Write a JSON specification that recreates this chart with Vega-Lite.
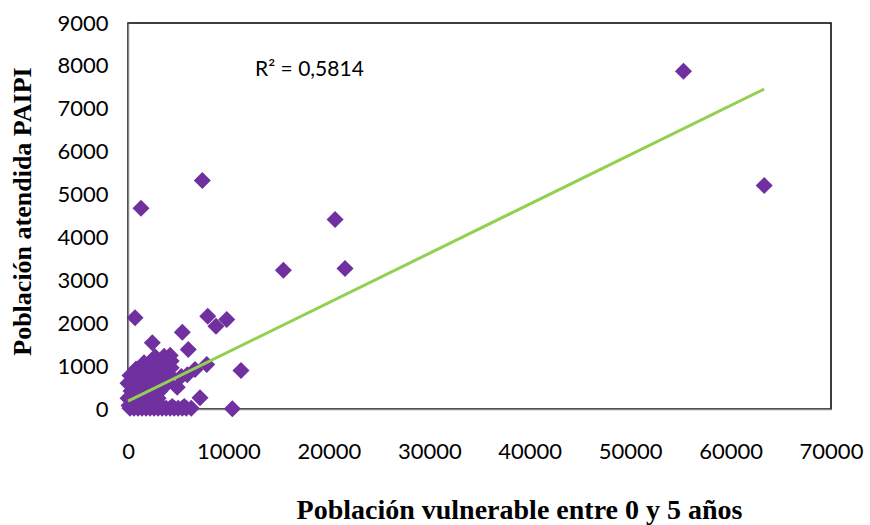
{
  "$schema": "https://vega.github.io/schema/vega-lite/v6.json",
  "width": 703,
  "height": 386,
  "autosize": "none",
  "padding": {"left": 128, "top": 23, "right": 39, "bottom": 116},
  "background": "white",
  "config": {
    "view": {"stroke": "#000000", "strokeWidth": 1.5},
    "axis": {"grid": false, "ticks": false, "domainColor": "#868686", "domainWidth": 1.5,
      "labelFont": "Lato", "labelFontSize": 22, "labelColor": "#000000",
      "titleFont": "Liberation Serif", "titleFontWeight": "bold", "titleFontSize": 26, "titleColor": "#000000"}
  },
  "datasets": {
    "pts": [
      {"x": 55310, "y": 7874}, {"x": 63350, "y": 5210}, {"x": 7400, "y": 5326}, {"x": 1295, "y": 4680},
      {"x": 20620, "y": 4417}, {"x": 15470, "y": 3235}, {"x": 21610, "y": 3275}, {"x": 700, "y": 2126},
      {"x": 7940, "y": 2163}, {"x": 8760, "y": 1930}, {"x": 9830, "y": 2086}, {"x": 5410, "y": 1790},
      {"x": 2420, "y": 1543}, {"x": 6000, "y": 1387}, {"x": 11250, "y": 897}, {"x": 7170, "y": 261},
      {"x": 10390, "y": 5}, {"x": 7840, "y": 1037}, {"x": 6670, "y": 920},
      {"x": 200, "y": 20}, {"x": 600, "y": 20}, {"x": 1000, "y": 20}, {"x": 1400, "y": 20}, {"x": 1800, "y": 20},
      {"x": 2200, "y": 20}, {"x": 2600, "y": 20}, {"x": 3000, "y": 20}, {"x": 3400, "y": 20}, {"x": 3800, "y": 20},
      {"x": 4200, "y": 20}, {"x": 4600, "y": 20}, {"x": 5000, "y": 20}, {"x": 5400, "y": 20}, {"x": 5800, "y": 20},
      {"x": 6300, "y": 20},
      {"x": 100, "y": 80}, {"x": 900, "y": 80}, {"x": 1700, "y": 80}, {"x": 2500, "y": 80}, {"x": 3300, "y": 80},
      {"x": 4400, "y": 60}, {"x": 5600, "y": 60},
      {"x": 0, "y": 250}, {"x": 500, "y": 250}, {"x": 1000, "y": 250}, {"x": 1500, "y": 250}, {"x": 2000, "y": 250},
      {"x": 2500, "y": 250}, {"x": 3000, "y": 250},
      {"x": 300, "y": 420}, {"x": 800, "y": 420}, {"x": 1300, "y": 420}, {"x": 1800, "y": 420}, {"x": 2300, "y": 420},
      {"x": 2800, "y": 420}, {"x": 3200, "y": 420},
      {"x": 0, "y": 600}, {"x": 500, "y": 600}, {"x": 1000, "y": 600}, {"x": 1500, "y": 600}, {"x": 2000, "y": 600},
      {"x": 2500, "y": 600}, {"x": 3000, "y": 600}, {"x": 3500, "y": 600}, {"x": 4000, "y": 620}, {"x": 4900, "y": 510},
      {"x": 200, "y": 780}, {"x": 700, "y": 780}, {"x": 1200, "y": 780}, {"x": 1700, "y": 780}, {"x": 2200, "y": 780},
      {"x": 2700, "y": 780}, {"x": 3200, "y": 780}, {"x": 3700, "y": 780}, {"x": 4200, "y": 780}, {"x": 5300, "y": 760},
      {"x": 5900, "y": 800},
      {"x": 800, "y": 930}, {"x": 1300, "y": 950}, {"x": 1800, "y": 950}, {"x": 2300, "y": 950}, {"x": 2800, "y": 950},
      {"x": 3300, "y": 950}, {"x": 3800, "y": 950}, {"x": 4300, "y": 960},
      {"x": 1600, "y": 1080}, {"x": 2300, "y": 1100}, {"x": 3000, "y": 1100}, {"x": 3700, "y": 1100}, {"x": 4300, "y": 1120},
      {"x": 2700, "y": 1220}, {"x": 3600, "y": 1230}, {"x": 4200, "y": 1250}
    ],
    "trend": [{"x": 0, "y": 182}, {"x": 63350, "y": 7460}],
    "label": [{"x": 12650, "y": 7914, "t": "R² = 0,5814"}]
  },
  "encoding": {
    "x": {"field": "x", "type": "quantitative",
      "scale": {"domain": [0, 70000], "nice": false, "zero": false},
      "axis": {"values": [0, 10000, 20000, 30000, 40000, 50000, 60000, 70000], "format": "d",
        "labelPadding": 42, "labelBaseline": "middle", "labelFlush": false,
        "title": "Población  vulnerable entre 0 y 5 años",
        "titleX": 391, "titleY": 101, "titleAnchor": null, "titleAlign": "center", "titleBaseline": "middle", "titleFontSize": 28}},
    "y": {"field": "y", "type": "quantitative",
      "scale": {"domain": [0, 9000], "nice": false, "zero": false},
      "axis": {"values": [0, 1000, 2000, 3000, 4000, 5000, 6000, 7000, 8000, 9000], "format": "d",
        "labelPadding": 20, "labelFlush": false,
        "title": "Población atendida PAIPI",
        "titleX": -106, "titleY": 188, "titleAngle": -90, "titleAlign": "center", "titleBaseline": "middle"}}
  },
  "layer": [
    {"data": {"name": "pts"},
      "mark": {"type": "point", "shape": "diamond", "filled": true, "size": 290, "color": "#7030A0", "opacity": 1, "strokeWidth": 0}},
    {"data": {"name": "trend"},
      "mark": {"type": "line", "color": "#92D050", "strokeWidth": 3}},
    {"data": {"name": "label"},
      "mark": {"type": "text", "align": "left", "baseline": "middle", "font": "Lato", "fontSize": 21, "color": "#000000"},
      "encoding": {"text": {"field": "t"}}}
  ]
}
